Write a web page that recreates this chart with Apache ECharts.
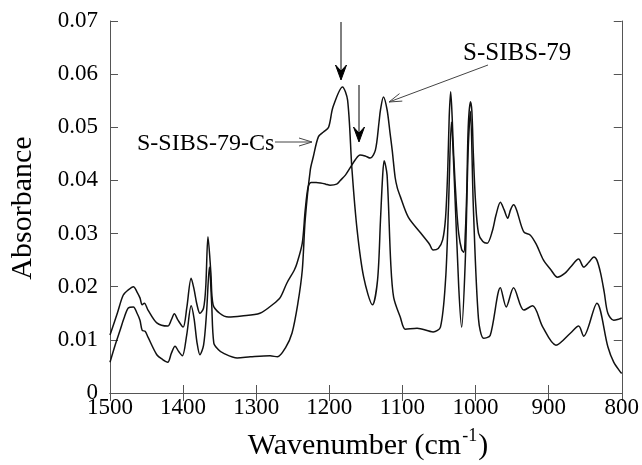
<!DOCTYPE html>
<html>
<head>
<meta charset="utf-8">
<script src="https://cdn.jsdelivr.net/npm/echarts@6/dist/echarts.min.js"></script>
<style>
html,body{margin:0;padding:0;background:#fff;}
#chart{width:642px;height:465px;}
</style>
</head>
<body>
<div id="chart"></div>
<script>
// S-SIBS-79 spectrum
const sibsWn = [1500,1490,1482,1475,1468,1463,1459,1456,1453,1448,1436,1421,1416,1412,1407,1400,1395,1389,1385,1381,1377,1372,1369,1366,1362,1359,1350,1338,1320,1295,1277,1267,1258,1248,1244,1237,1233,1229,1225,1218,1212,1205,1199,1190,1185,1178,1171,1164,1158,1151,1144,1137,1132,1130,1126,1121,1117,1114,1110,1107,1103,1092,1075,1063,1058,1051,1045,1041,1038,1036,1034,1032,1030,1026,1023,1019,1016,1014,1012,1010,1007,1005,1003,1000,996,990,984,977,972,966,961,956,952,948,944,934,925,917,907,897,888,878,870,859,852,845,838,834,829,824,819,811,804,800];
const sibsAbs = [0.0109,0.0150,0.0184,0.0194,0.0200,0.0190,0.0179,0.0166,0.0169,0.0156,0.0132,0.0126,0.0138,0.0149,0.0137,0.0124,0.0160,0.0216,0.0195,0.0166,0.0150,0.0160,0.0200,0.0294,0.0226,0.0166,0.0150,0.0143,0.0145,0.0150,0.0167,0.0180,0.0207,0.0231,0.0245,0.0282,0.0344,0.0388,0.0396,0.0396,0.0395,0.0393,0.0391,0.0393,0.0400,0.0410,0.0425,0.0440,0.0448,0.0446,0.0442,0.0457,0.0510,0.0533,0.0557,0.0533,0.0490,0.0457,0.0406,0.0386,0.0370,0.0331,0.0301,0.0280,0.0269,0.0272,0.0288,0.0330,0.0420,0.0520,0.0567,0.0520,0.0450,0.0350,0.0300,0.0270,0.0265,0.0300,0.0380,0.0500,0.0548,0.0530,0.0450,0.0360,0.0301,0.0285,0.0282,0.0305,0.0335,0.0359,0.0345,0.0329,0.0345,0.0354,0.0345,0.0303,0.0297,0.0280,0.0250,0.0232,0.0218,0.0225,0.0237,0.0252,0.0237,0.0246,0.0256,0.0250,0.0226,0.0190,0.0150,0.0137,0.0139,0.0141];

// S-SIBS-79-Cs spectrum
const csWn = [1500,1493,1486,1481,1475,1468,1463,1459,1456,1452,1448,1436,1428,1421,1416,1411,1406,1401,1395,1389,1385,1381,1377,1372,1368,1364,1361,1358,1352,1345,1326,1308,1281,1271,1260,1251,1243,1237,1233,1226,1222,1215,1208,1201,1195,1182,1175,1169,1162,1153,1141,1134,1130,1127,1125,1121,1116,1112,1103,1096,1080,1058,1048,1041,1037,1033,1029,1023,1019,1014,1010,1007,1003,996,989,980,966,958,948,934,922,908,890,870,859,852,834,819,811,801,800];
const csAbs = [0.0058,0.0090,0.0119,0.0140,0.0160,0.0162,0.0150,0.0137,0.0118,0.0116,0.0105,0.0072,0.0063,0.0058,0.0075,0.0088,0.0078,0.0070,0.0110,0.0164,0.0140,0.0095,0.0072,0.0090,0.0150,0.0237,0.0170,0.0094,0.0082,0.0075,0.0066,0.0068,0.0070,0.0068,0.0085,0.0113,0.0169,0.0231,0.0326,0.0420,0.0444,0.0482,0.0491,0.0500,0.0538,0.0576,0.0551,0.0420,0.0307,0.0218,0.0166,0.0213,0.0326,0.0410,0.0437,0.0410,0.0245,0.0180,0.0143,0.0120,0.0122,0.0115,0.0124,0.0213,0.0350,0.0510,0.0400,0.0200,0.0124,0.0250,0.0460,0.0530,0.0350,0.0140,0.0103,0.0108,0.0198,0.0162,0.0198,0.0156,0.0164,0.0124,0.0090,0.0113,0.0126,0.0107,0.0169,0.0087,0.0058,0.0038,0.0037];

const xTicks = [1500,1400,1300,1200,1100,1000,900,800];
const yTicks = [0,0.01,0.02,0.03,0.04,0.05,0.06,0.07];

const FONT = '"Liberation Serif", "Times New Roman", serif';
const AX = '#555';

const chart = echarts.init(document.getElementById('chart'), null, {renderer: 'canvas'});

const pairs = (xs, ys) => xs.map((x, i) => [x, ys[i]]);

const xBase = {
  type: 'value', min: 800, max: 1500, interval: 100, inverse: true,
  axisLine: {show: true, lineStyle: {color: AX, width: 1}},
  axisTick: {show: true, inside: true, length: 8, lineStyle: {color: AX}},
  splitLine: {show: false}
};
const yBase = {
  type: 'value', min: 0, max: 0.07, interval: 0.01,
  axisLine: {show: true, lineStyle: {color: AX, width: 1}},
  axisTick: {show: true, inside: true, length: 8, lineStyle: {color: AX}},
  splitLine: {show: false}
};

function arrowHead(x, tip) {
  return {
    type: 'polygon',
    shape: {points: [[x, tip], [x - 5.5, tip - 15], [x, tip - 9], [x + 5.5, tip - 15]]},
    style: {fill: '#000', stroke: '#000', lineWidth: 1}, z: 100
  };
}

chart.setOption({
  animation: false,
  grid: {left: 110, right: 20, top: 21, bottom: 72, containLabel: false},
  xAxis: [
    Object.assign({}, xBase, {
      position: 'bottom',
      axisLabel: {show: true, margin: 3, fontFamily: FONT, fontSize: 23, color: '#000',
        formatter: v => xTicks.includes(v) ? String(v) : ''}
    }),
    Object.assign({}, xBase, {position: 'top', axisLabel: {show: false}})
  ],
  yAxis: [
    Object.assign({}, yBase, {
      position: 'left',
      axisLabel: {show: true, margin: 12, fontFamily: FONT, fontSize: 23, color: '#000',
        formatter: v => { const t = yTicks.find(k => Math.abs(k - v) < 1e-9); return t === 0 ? '0' : (t !== undefined ? t.toFixed(2) : ''); }}
    }),
    Object.assign({}, yBase, {position: 'right', axisLabel: {show: false}})
  ],
  series: [
    {
      name: 'S-SIBS-79', type: 'line', xAxisIndex: 0, yAxisIndex: 0,
      data: pairs(sibsWn, sibsAbs), showSymbol: false, smooth: 0.3,
      lineStyle: {color: '#111', width: 1.5}
    },
    {
      name: 'S-SIBS-79-Cs', type: 'line', xAxisIndex: 0, yAxisIndex: 0,
      data: pairs(csWn, csAbs), showSymbol: false, smooth: 0.3,
      lineStyle: {color: '#111', width: 1.5}
    }
  ],
  graphic: [
    {
      type: 'text', position: [368, 444],
      style: {
        text: '{a|Wavenumber (cm}{s|-1}{a|)}',
        align: 'center', verticalAlign: 'middle',
        rich: {
          a: {fontFamily: FONT, fontSize: 30, fill: '#000', lineHeight: 34, verticalAlign: 'bottom'},
          s: {fontFamily: FONT, fontSize: 18, fill: '#000', lineHeight: 34, verticalAlign: 'top', padding: [0, 1, 0, 1]}
        }
      },
      z: 100
    },
    {
      type: 'text', position: [23, 208], rotation: Math.PI / 2,
      style: {text: 'Absorbance', fontFamily: FONT, fontSize: 30, fill: '#000', align: 'center', verticalAlign: 'middle'},
      z: 100
    },
    {
      type: 'text', position: [137, 144],
      style: {text: 'S-SIBS-79-Cs', fontFamily: FONT, fontSize: 24, fill: '#000', align: 'left', verticalAlign: 'middle'},
      z: 100
    },
    {
      type: 'text', position: [463, 53],
      style: {text: 'S-SIBS-79', fontFamily: FONT, fontSize: 25, fill: '#000', align: 'left', verticalAlign: 'middle'},
      z: 100
    },
    // open arrow to S-SIBS-79-Cs
    {type: 'polyline', shape: {points: [[275, 142], [312, 142]]}, style: {stroke: '#444', lineWidth: 1}, z: 100},
    {type: 'polyline', shape: {points: [[299, 138], [312, 142], [299, 146]]}, style: {stroke: '#444', lineWidth: 1, fill: null}, z: 100},
    // open arrow to S-SIBS-79
    {type: 'polyline', shape: {points: [[488, 65], [389, 102]]}, style: {stroke: '#444', lineWidth: 1}, z: 100},
    {type: 'polyline', shape: {points: [[399.5, 93.6], [389, 102], [402.3, 101.1]]}, style: {stroke: '#444', lineWidth: 1, fill: null}, z: 100},
    // vertical filled arrows
    {type: 'line', shape: {x1: 341, y1: 22, x2: 341, y2: 72}, style: {stroke: '#000', lineWidth: 1}, z: 100},
    arrowHead(341, 80),
    {type: 'line', shape: {x1: 359, y1: 85, x2: 359, y2: 134}, style: {stroke: '#000', lineWidth: 1}, z: 100},
    arrowHead(359, 142)
  ]
});
</script>
</body>
</html>
